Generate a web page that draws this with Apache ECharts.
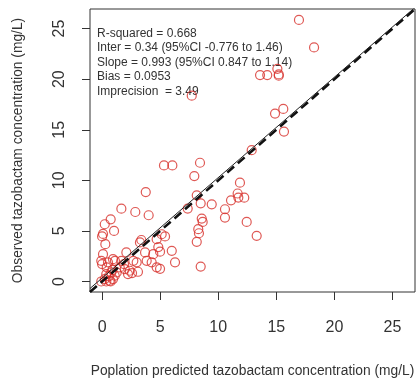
<!DOCTYPE html>
<html>
<head>
<meta charset="utf-8">
<script src="https://cdn.jsdelivr.net/npm/echarts@6/dist/echarts.min.js"></script>
<style>
  html, body { margin: 0; padding: 0; background: #fff; }
  #chart { width: 418px; height: 383px; }
</style>
</head>
<body>
<div id="chart"></div>
<script>
// population predicted (x) and observed (y) tazobactam, mg/L
const predicted = [
  16.95, 18.25, 13.6, 14.22, 15.09, 15.21, 15.21, 7.72, 14.89, 15.6,
  15.66, 12.88, 5.33, 6.05, 8.43, 7.94, 3.76, 11.87, 11.67, 11.73,
  12.24, 11.1, 10.58, 10.58, 12.45, 13.31, 8.15, 8.49, 9.44, 7.37,
  8.58, 8.66, 8.28, 8.34, 8.15, 8.49, 5.42, 5.13, 4.7, 4.84,
  4.99, 6.0, 4.41, 3.7, 3.26, 3.38, 4.27, 3.84, 4.7, 4.99,
  6.28, 1.66, 2.86, 4.01, 0.74, 0.23, 1.03, 0.08, 0.0, 0.28,
  2.09, 0.08, -0.07, 0.51, 0.0, 0.94, 1.11, 1.66, 1.89, 2.69,
  2.98, 1.52, 1.95, 2.38, 2.23, 2.58, 3.09, 1.26, 0.79, 0.36,
  1.09, 0.57, 0.23, 0.66, 0.94, -0.07, 0.36, 0.74, 0.4, 0.9
];
const observed = [
  25.86, 23.14, 20.41, 20.41, 21.03, 20.47, 20.34, 18.37, 16.6, 17.06,
  14.82, 12.98, 11.47, 11.47, 11.74, 10.42, 8.84, 9.77, 8.7, 8.3,
  8.29, 8.02, 7.14, 6.32, 5.89, 4.51, 8.52, 7.73, 7.63, 7.21,
  6.22, 5.89, 5.17, 4.77, 3.92, 1.47, 4.45, 4.67, 4.18, 3.4,
  2.95, 3.03, 2.7, 2.87, 3.86, 4.1, 1.89, 2.04, 1.4, 1.25,
  1.89, 7.2, 6.87, 6.55, 6.15, 5.66, 5.0, 4.7, 4.45, 3.69,
  2.87, 2.7, 2.04, 1.89, 1.72, 2.21, 2.04, 2.04, 1.72, 2.04,
  1.89, 1.39, 1.23, 1.06, 0.73, 0.83, 0.96, 0.9, 0.9, 0.73,
  0.57, 0.51, 0.24, 0.07, 0.24, 0.0, 0.0, 0.0, 1.4, 1.15
];
const tickValues = [0, 5, 10, 15, 20, 25];
const inter = 0.34;
const slope = 0.993;
const statLines = [
  "R-squared = 0.668",
  "Inter = 0.34 (95%CI -0.776 to 1.46)",
  "Slope = 0.993 (95%CI 0.847 to 1.14)",
  "Bias = 0.0953",
  "Imprecision  = 3.49"
];

const axisMin = -1.04;
const axisMax = 26.94;
const font = "Liberation Sans, Arial, sans-serif";

const chart = echarts.init(document.getElementById("chart"));

const points = predicted.map((x, i) => [x, observed[i]]);
const fitLine = [axisMin, axisMax].map((x) => [x, inter + slope * x]);
const identity = [axisMin, axisMax].map((x) => [x, x]);

function axis(name, gap, rotate, margin) {
  return {
    type: "value",
    min: axisMin,
    max: axisMax,
    name: name,
    nameLocation: "middle",
    nameGap: gap,
    nameTextStyle: { fontSize: 13.8, color: "#333", fontFamily: font },
    axisLine: { show: false, onZero: false },
    splitLine: { show: false },
    axisTick: {
      show: true,
      length: 8,
      customValues: tickValues,
      lineStyle: { color: "#333" },
    },
    axisLabel: {
      customValues: tickValues,
      fontSize: 16,
      color: "#333",
      fontFamily: font,
      rotate: rotate,
      margin: margin,
    },
  };
}

const option = {
  backgroundColor: "#fff",
  animation: false,
  grid: {
    left: 90,
    right: 3,
    top: 9,
    bottom: 90,
    show: true,
    borderColor: "#333",
    borderWidth: 1,
  },
  xAxis: axis("Poplation predicted tazobactam concentration (mg/L)", 72, 0, 28),
  yAxis: axis("Observed tazobactam concentration (mg/L)", 65, 90, 22),
  graphic: [
    {
      type: "text",
      left: 97,
      top: 26,
      style: {
        text: statLines.join("\n"),
        fontSize: 12,
        lineHeight: 14.5,
        fontFamily: font,
        fill: "#333",
      },
      z: 1,
    },
  ],
  series: [
    {
      type: "scatter",
      data: points,
      symbol: "circle",
      symbolSize: 9,
      itemStyle: {
        color: "rgba(0,0,0,0)",
        borderColor: "#d7302b",
        borderWidth: 1.2,
      },
      z: 3,
    },
    {
      type: "line",
      data: identity,
      symbol: "none",
      silent: true,
      lineStyle: { color: "#111", width: 2.6, type: [9, 5] },
      z: 4,
    },
    {
      type: "line",
      data: fitLine,
      symbol: "none",
      silent: true,
      lineStyle: { color: "#222", width: 1 },
      z: 5,
    },
  ],
};

chart.setOption(option);
window.addEventListener("resize", () => chart.resize());
</script>
</body>
</html>
